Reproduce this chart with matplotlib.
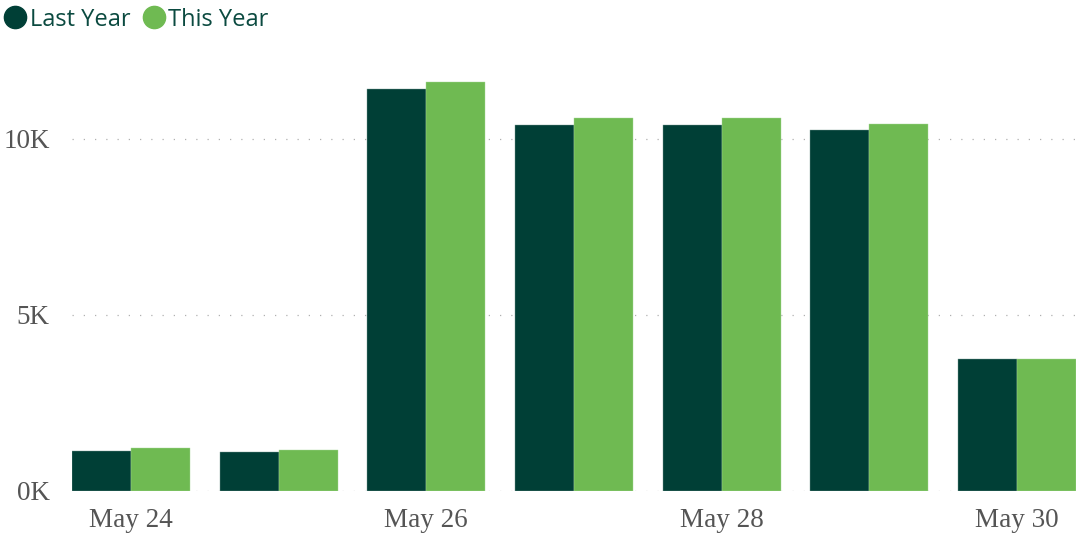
import matplotlib
matplotlib.use("Agg")
import matplotlib.pyplot as plt
import numpy as np
from matplotlib.lines import Line2D

dates = ["May 24", "May 25", "May 26", "May 27", "May 28", "May 29", "May 30"]
last_year = [1130, 1100, 11410, 10390, 10390, 10250, 3760]
this_year = [1220, 1170, 11620, 10590, 10590, 10420, 3760]
series_names = ["Last Year", "This Year"]
colors = ["#003f36", "#6fba52"]
yticks = [0, 5000, 10000]
ytick_labels = ["0K", "5K", "10K"]

W, H = 1089, 540
fig = plt.figure(figsize=(W / 100, H / 100), dpi=100)
ax = fig.add_axes([72 / W, 49 / H, (1076 - 72) / W, 440 / H])

x = np.arange(len(dates))
bw = 0.4
ax.bar(x - bw / 2, last_year, bw, color=colors[0], edgecolor="#7a9a94", linewidth=0.3, zorder=3)
ax.bar(x + bw / 2, this_year, bw, color=colors[1], edgecolor="#a8d896", linewidth=0.3, zorder=3)

ax.set_xlim(-0.4, len(dates) - 0.6)
ax.set_ylim(0, 12500)
ax.set_yticks(yticks)
ax.set_yticklabels(ytick_labels)
ax.set_xticks(x[::2])
ax.set_xticklabels(dates[::2])

for yv in yticks:
    ax.axhline(yv, color="#b0b0b0", linewidth=0.9, linestyle=(0, (1, 8)), zorder=1)

for s in ax.spines.values():
    s.set_visible(False)
ax.tick_params(axis="both", length=0, labelsize=19.5, labelcolor="#555555")
ax.tick_params(axis="y", pad=16)
ax.tick_params(axis="x", pad=12)
for lbl in ax.get_xticklabels() + ax.get_yticklabels():
    lbl.set_fontfamily("Liberation Serif")

handles = [Line2D([], [], marker="o", linestyle="", markersize=16, color=c) for c in colors]
leg = fig.legend(handles, series_names, loc="upper left", bbox_to_anchor=(-0.027, 1.025),
                 frameon=False, ncol=2, handletextpad=-0.4, columnspacing=0.0,
                 prop={"family": "Open Sans", "size": 17})
for t in leg.get_texts():
    t.set_color("#0b4a40")

fig.savefig("out.png", dpi=100)
